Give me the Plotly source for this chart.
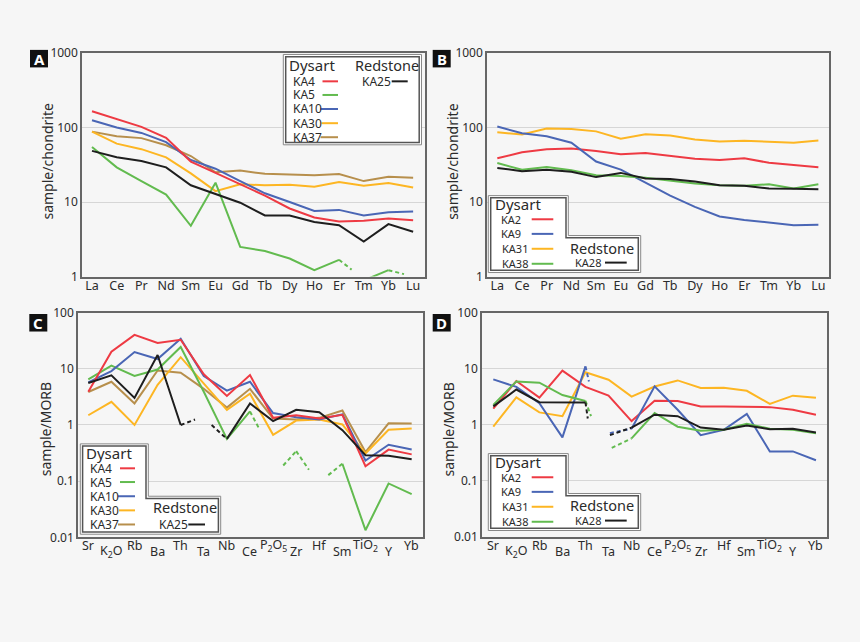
import plotly.graph_objects as go

# ---------------- data ----------------
REE = ["La", "Ce", "Pr", "Nd", "Sm", "Eu", "Gd", "Tb", "Dy", "Ho", "Er", "Tm", "Yb", "Lu"]
SPIDER = ["Sr", "K<sub>2</sub>O", "Rb", "Ba", "Th", "Ta", "Nb", "Ce", "P<sub>2</sub>O<sub>5</sub>",
          "Zr", "Hf", "Sm", "TiO<sub>2</sub>", "Y", "Yb"]

# Panel A (sample/chondrite)
A_KA4 = [165, 129, 102, 72.7, 34.9, 24.6, 17.3, 12.2, 8.2, 6.2, 5.5, 5.6, 6.0, 5.7]
A_KA5 = [54.8, 29.2, 19.1, 12.6, 4.8, 18.2, 2.5, 2.2, 1.75, 1.22, 1.68, 0.89, 1.22, None]
A_KA10 = [125, 100, 84.5, 63.7, 36.7, 28, 19.1, 13.1, 10, 7.6, 7.85, 6.6, 7.3, 7.46]
A_KA30 = [88, 60.7, 51.2, 39.8, 24.2, 14, 17.3, 16.8, 17, 16, 18.6, 16.5, 18, 15.7]
A_KA37 = [88, 76.3, 72, 57.7, 41.4, 25.1, 26.4, 23.9, 23.4, 22.9, 23.7, 19.1, 21.8, 21.2]
A_KA25 = [48.6, 39.8, 35.6, 29.2, 16.8, 12.8, 9.8, 6.6, 6.6, 5.4, 4.9, 2.95, 5.06, 4.0]
A_KA5_stub_x = [[10, 10.51], [12, 12.63]]
A_KA5_stub_y = [[1.68, 1.24], [1.22, 1.08]]

# Panel B (sample/chondrite)
B_KA2 = [38.6, 46.4, 51.2, 52.3, 48.2, 43.6, 45.4, 41.4, 38.2, 36.7, 38.6, 33.6, 31.6, 29.2]
B_KA9 = [103, 83.5, 76.3, 62.5, 34.9, 27.2, 18.2, 12.2, 8.6, 6.4, 5.75, 5.3, 4.9, 4.95]
B_KA31 = [86, 80.3, 97, 95.3, 88.7, 70.6, 81, 78, 69, 65, 66.4, 65, 62.5, 67]
B_KA38 = [33.3, 27.2, 29.5, 26.7, 22.9, 22.3, 21.2, 19.5, 17.7, 16.8, 16.6, 17.3, 15.2, 17.3]
B_KA28 = [28.7, 25.9, 27.2, 25.4, 21.6, 24.6, 20.7, 20.4, 18.8, 16.8, 16.5, 15.2, 15.1, 14.9]

# Panel C (sample/MORB)
C_KA4 = [3.9, 20.1, 40.1, 28.8, 32.9, 7.97, 3.29, 7.76, 1.34, 1.49, 1.3, 1.52, 0.184, 0.365, 0.3]
C_KA5 = [6.5, 11.4, 7.45, 9.7, 24.5, 3.9, 0.565, 1.74, None, 0.342, None, 0.204, 0.0134, 0.091, 0.0588]
C_KA10 = [5.74, 9.1, 19.9, 14.9, 34.2, 7.45, 4.1, 5.88, 1.63, 1.37, 1.25, 1.55, 0.233, 0.445, 0.365]
C_KA30 = [1.49, 2.59, 1.0, 5.2, 16.1, 5.36, 1.86, 3.6, 0.67, 1.2, 1.25, 1.02, 0.31, 0.82, 0.87]
C_KA37 = [3.86, 5.88, 2.42, 9.35, 8.53, 4.4, 2.04, 4.4, 1.3, 1.25, 1.34, 1.81, 0.33, 1.07, 1.06]
C_KA25 = [5.58, 7.66, 3.04, 17.6, 1.0, None, 0.565, 2.42, 1.17, 1.86, 1.69, 0.81, 0.29, 0.284, 0.245]
C_KA25_stub_x = [[4, 4.62], [5.34, 6]]
C_KA25_stub_y = [[1.0, 1.25], [1.0, 0.565]]
C_KA5_stub_x = [[7, 7.39], [8.44, 9], [9, 9.55], [10.39, 11]]
C_KA5_stub_y = [[1.74, 0.87], [0.19, 0.342], [0.342, 0.16], [0.128, 0.204]]

# Panel D (sample/MORB)
D_KA2 = [1.93, 6.03, 3.04, 9.24, 4.73, 3.3, 1.16, 2.69, 2.66, 2.12, 2.12, 2.12, 2.06, 1.85, 1.51]
D_KA9 = [6.44, 4.73, 2.42, 0.593, 11, None, 0.85, 4.85, 1.85, 0.65, 0.81, 1.56, 0.333, 0.333, 0.232]
D_KA31 = [0.92, 3.08, 1.66, 1.42, 8.65, 6.35, 3.17, 4.8, 6.18, 4.54, 4.57, 4.03, 2.35, 3.3, 3.04]
D_KA38 = [2.26, 5.93, 5.62, 3.38, 2.66, None, 0.57, 1.62, 0.92, 0.78, 0.81, 1.04, 0.85, 0.81, 0.7]
D_KA28 = [2.12, 4.25, 2.52, 2.52, 2.49, None, 0.887, 1.51, 1.42, 0.887, 0.81, 0.97, 0.83, 0.85, 0.725]
D_KA9_stub_x = [[4, 4.15], [5.06, 6]]
D_KA9_stub_y = [[11, 5.93], [0.706, 0.85]]
D_KA38_stub_x = [[4, 4.24], [5.14, 6]]
D_KA38_stub_y = [[2.66, 1.42], [0.386, 0.57]]
D_KA28_stub_x = [[4, 4.1], [5.06, 6]]
D_KA28_stub_y = [[2.49, 1.29], [0.65, 0.887]]

# ---------------- style ----------------
W, H = 860, 642
FONT = "Noto Sans"
TXT = "#2b2b2b"
RED, GREEN, BLUE, YELLOW, BROWN, BLACK = "#ee3a43", "#62bb4f", "#4a66b5", "#fdb623", "#b78f4c", "#1e1e1e"
BORDER = "#666666"
BG = "#f6f6f6"


def px(x):
    return x / W


def py(y):
    return 1 - y / H


fig = go.Figure()


def series(vals, color, ax, breaks=()):
    xs, ys = [], []
    for i, v in enumerate(vals):
        xs.append(i)
        ys.append(v)
        if i in breaks:
            xs.append(None)
            ys.append(None)
    fig.add_trace(go.Scatter(x=xs, y=ys, mode="lines", line=dict(color=color, width=2),
                             xaxis="x" + ax, yaxis="y" + ax, showlegend=False,
                             hoverinfo="skip", connectgaps=False))


def stubs(sx, sy, color, ax):
    for a, b in zip(sx, sy):
        fig.add_trace(go.Scatter(x=a, y=b, mode="lines",
                                 line=dict(color=color, width=2, dash="4px,3px"),
                                 xaxis="x" + ax, yaxis="y" + ax, showlegend=False,
                                 hoverinfo="skip"))


# Panel A
series(A_KA37, BROWN, "")
series(A_KA30, YELLOW, "")
series(A_KA5, GREEN, "", breaks=(10,))
stubs(A_KA5_stub_x, A_KA5_stub_y, GREEN, "")
series(A_KA10, BLUE, "")
series(A_KA4, RED, "")
series(A_KA25, BLACK, "")
# Panel B
series(B_KA31, YELLOW, "2")
series(B_KA2, RED, "2")
series(B_KA9, BLUE, "2")
series(B_KA38, GREEN, "2")
series(B_KA28, BLACK, "2")
# Panel C
series(C_KA37, BROWN, "3")
series(C_KA30, YELLOW, "3")
series(C_KA5, GREEN, "3")
stubs(C_KA5_stub_x, C_KA5_stub_y, GREEN, "3")
series(C_KA10, BLUE, "3")
series(C_KA4, RED, "3")
series(C_KA25, BLACK, "3")
stubs(C_KA25_stub_x, C_KA25_stub_y, BLACK, "3")
# Panel D
series(D_KA31, YELLOW, "4")
series(D_KA2, RED, "4")
series(D_KA9, BLUE, "4")
stubs(D_KA9_stub_x, D_KA9_stub_y, BLUE, "4")
series(D_KA38, GREEN, "4")
stubs(D_KA38_stub_x, D_KA38_stub_y, GREEN, "4")
series(D_KA28, BLACK, "4")
stubs(D_KA28_stub_x, D_KA28_stub_y, BLACK, "4")

# ---------------- axes ----------------
def yax(dom, rng, vals, labels):
    return dict(domain=[py(dom[1]), py(dom[0])], type="log", range=rng, tickvals=vals,
                ticktext=labels, showgrid=True, gridcolor="#d6d6d6", gridwidth=1,
                showline=True, mirror=True, linecolor=BORDER, linewidth=1.5,
                ticks="", tickfont=dict(size=12, color=TXT, family=FONT), zeroline=False)


def xax(dom, rng, n, labels, show):
    return dict(domain=[px(dom[0]), px(dom[1])], range=rng, tickvals=list(range(n)),
                ticktext=labels, showticklabels=show, showgrid=False, zeroline=False,
                showline=True, mirror=True, linecolor=BORDER, linewidth=1.5, ticks="",
                ticklabelstandoff=-3,
                tickfont=dict(size=12.5, color=TXT, family=FONT))


YA_V = [1, 10, 100, 1000]
YA_T = ["1", "10", "100", "1000"]
YC_V = [0.01, 0.1, 1, 10, 100]
YC_T = ["0.01", "0.1", "1", "10", "100"]

fig.update_layout(
    xaxis=xax((82, 425), [-0.405, 13.48], 14, REE, True),
    yaxis=yax((45.1, 274.9), [0, 3], YA_V, YA_T),
    xaxis2=xax((487, 829), [-0.417, 13.43], 14, REE, True),
    yaxis2=yax((45.1, 274.9), [0, 3], YA_V, YA_T),
    xaxis3=xax((78, 423), [-0.446, 14.49], 15, SPIDER, False),
    yaxis3=yax((311.9, 542.7), [-2, 2], YC_V, YC_T),
    xaxis4=xax((482, 827), [-0.49, 14.48], 15, SPIDER, False),
    yaxis4=yax((312, 542), [-2, 2], YC_V, YC_T),
)
fig.layout.xaxis2.anchor = "y2"
fig.layout.yaxis2.anchor = "x2"
fig.layout.xaxis3.anchor = "y3"
fig.layout.yaxis3.anchor = "x3"
fig.layout.xaxis4.anchor = "y4"
fig.layout.yaxis4.anchor = "x4"

ann = []
shapes = []

# staggered spider-diagram labels
for ax in ("x3", "x4"):
    for i, lab in enumerate(SPIDER):
        yy = 551.5 if i % 2 == 0 else 557.5
        ann.append(dict(x=i, y=py(yy), xref=ax, yref="paper", text=lab, showarrow=False,
                        xanchor="center", yanchor="middle",
                        font=dict(size=12.5, color=TXT, family=FONT)))

# y-axis titles
for x0, y0, t in ((48, 156.7, "sample/chondrite"), (452.3, 156.7, "sample/chondrite"),
                  (45, 431.7, "sample/MORB"), (448.3, 431.7, "sample/MORB")):
    ann.append(dict(x=px(x0), y=py(y0), xref="paper", yref="paper", text=t, textangle=-90,
                    showarrow=False, xanchor="center", yanchor="middle",
                    font=dict(size=14, color=TXT, family=FONT)))

# panel letters
for lx, ly, L in ((30, 42, "A"), (432.7, 42, "B"), (29.3, 313.3, "C"), (432.7, 313.3, "D")):
    shapes.append(dict(type="rect", xref="paper", yref="paper", x0=px(lx), x1=px(lx + 18),
                       y0=py(ly + 18), y1=py(ly), fillcolor="#111111", line=dict(width=0)))
    ann.append(dict(x=px(lx + 9), y=py(ly + 9), xref="paper", yref="paper", text="<b>%s</b>" % L,
                    showarrow=False, xanchor="center", yanchor="middle",
                    font=dict(size=15, color="white", family=FONT)))


def poly(pts):
    return "M" + " L".join("%f,%f" % (px(a), py(b)) for a, b in pts) + " Z"


def legend_box(pts, inset):
    shapes.append(dict(type="path", xref="paper", yref="paper", path=poly(pts),
                       fillcolor="white", line=dict(color="#888888", width=1)))
    shapes.append(dict(type="path", xref="paper", yref="paper", path=poly(inset),
                       fillcolor="white", line=dict(color="#555555", width=1.5)))


def text(x, y, t, size):
    ann.append(dict(x=px(x), y=py(y), xref="paper", yref="paper", text=t, showarrow=False,
                    xanchor="left", yanchor="middle", font=dict(size=size, color=TXT, family=FONT)))


def sample(x0, x1, y, color):
    shapes.append(dict(type="line", xref="paper", yref="paper", x0=px(x0), x1=px(x1),
                       y0=py(y), y1=py(y), line=dict(color=color, width=2)))


# Legend A
legend_box([(283.3, 46.7), (421.5, 46.7), (421.5, 139.5), (283.3, 139.5)],
           [(285.7, 49), (419.2, 49), (419.2, 137.2), (285.7, 137.2)])
text(287, 58, "Dysart", 15)
text(352.5, 58, "Redstone", 14.5)
for lab, yy, c, x0 in (("KA4", 74.3, RED, 322.5), ("KA5", 88.3, GREEN, 322.5),
                        ("KA10", 102.7, BLUE, 320.5), ("KA30", 117.3, YELLOW, 321.5),
                        ("KA37", 131.7, BROWN, 320.5)):
    text(290.5, yy, lab, 12)
    sample(x0, 338, yy, c)
text(360, 74.3, "KA25", 12)
sample(391.7, 407.7, 74.3, BLACK)

# Legends B and D (same shape, shifted)
for dy in (0, 265):
    legend_box([(488.3, 191.7 + dy), (568.3, 191.7 + dy), (568.3, 232.7 + dy), (640.7, 232.7 + dy),
                (640.7, 270.7 + dy), (488.3, 270.7 + dy)],
               [(490.7, 194 + dy), (566, 194 + dy), (566, 235 + dy), (638.3, 235 + dy),
                (638.3, 268.3 + dy), (490.7, 268.3 + dy)])
    text(493, 200 + dy, "Dysart", 15)
    names = ("KA2", "KA9", "KA31", "KA38")
    for lab, yy, c in zip(names, (216, 231, 246.3, 261.7), (RED, BLUE, YELLOW, GREEN)):
        text(499.5, yy + dy, lab, 11)
        sample(531.7, 553.3, yy + dy, c)
    text(567.5, 245 + dy, "Redstone", 14.5)
    text(573, 260.5 + dy, "KA28", 11)
    sample(605, 626.7, 260.5 + dy, BLACK)

# Legend C
legend_box([(80.3, 446.7), (148.3, 446.7), (148.3, 500.5), (220.7, 500.5), (220.7, 539.5), (80.3, 539.5)],
           [(82.6, 449), (146, 449), (146, 502.8), (218.4, 502.8), (218.4, 537.2), (82.6, 537.2)])
text(84, 456.5, "Dysart", 15)
for lab, yy, c, x0 in (("KA4", 471.8, RED, 120), ("KA5", 485.9, GREEN, 120),
                        ("KA10", 500.5, BLUE, 118), ("KA30", 515, YELLOW, 119),
                        ("KA37", 529.5, BROWN, 118)):
    text(88, yy, lab, 12)
    sample(x0, 135, yy, c)
text(151, 512, "Redstone", 14.5)
text(157, 529.5, "KA25", 12)
sample(188.3, 205, 529.5, BLACK)

fig.update_layout(width=W, height=H, margin=dict(l=0, r=0, t=0, b=0),
                  paper_bgcolor=BG, plot_bgcolor=BG, showlegend=False,
                  annotations=ann, shapes=shapes, font=dict(family=FONT, color=TXT))

fig.write_html("out.html", config={"displayModeBar": False},
               post_script="document.body.style.margin='0px';document.body.style.background='%s';" % BG)
